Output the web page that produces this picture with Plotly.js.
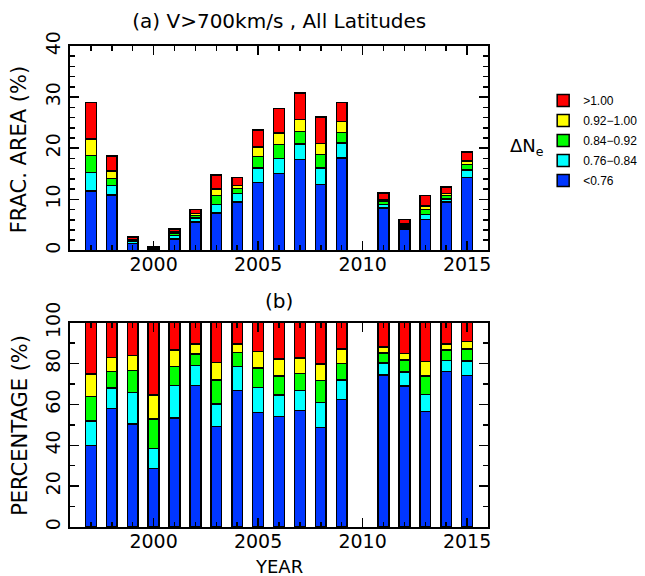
<!DOCTYPE html>
<html><head><meta charset="utf-8">
<script src="https://cdn.plot.ly/plotly-3.0.1.min.js"></script>
<style>body{margin:0;padding:0;background:#fff}</style>
</head><body>
<div id="chart" style="width:645px;height:576px"></div>
<script>
// Years with data (2010 missing)
const years = [1997,1998,1999,2000,2001,2002,2003,2004,2005,2006,2007,2008,2009,2011,2012,2013,2014,2015];

// Panel (a): fractional area (%) per ΔNe bin
const areaLt076   = [11.6,10.85,1.31,0.20,2.24,5.56,7.3,9.5,13.3,15.1,17.8,12.9,18.1,8.34,4.2,6.1,9.44,14.3];
const area076_084 = [3.6,1.85,0.40,0.07,0.66,0.80,1.7,1.68,2.8,2.9,3.0,3.2,2.9,0.64,0.42,0.89,0.67,1.39];
const area084_092 = [3.4,1.4,0.28,0.10,0.39,0.46,1.7,0.95,2.3,2.7,2.5,2.7,2.1,0.55,0.37,0.97,0.63,1.12];
const area092_100 = [3.2,1.4,0.19,0.08,0.34,0.38,1.3,0.60,1.8,2.3,2.3,2.1,2.1,0.34,0.19,0.78,0.38,0.69];
const areaGt100   = [7.1,3.0,0.42,0.25,0.56,0.84,2.8,1.5,3.4,4.8,5.25,5.2,3.7,1.33,0.92,2.05,1.28,1.8];

// Panel (b): percentage of each bin
const pctLt076   = [40,58,50.4,28.6,53.4,69.2,49.1,66.8,56.1,54,57.1,48.6,62.4,74.5,68.9,56.6,76.1,74.1];
const pct076_084 = [12,10,15.4,9.9,15.8,9.9,11,11.8,12.1,10.6,9.8,12.4,9.6,5.7,6.9,8.2,5.4,7.2];
const pct084_092 = [12,8,10.8,14.4,9.4,5.7,11.9,6.7,9.7,9.4,8.2,10.8,8,4.9,6,9,5.1,5.8];
const pct092_100 = [11,7,7.4,11.7,8.1,4.7,8.5,4.2,8,8.3,7.7,7.9,7.1,3,3.1,7.2,3.1,3.6];
const pctGt100   = [25,17,16,35.4,13.3,10.5,19.5,10.5,14.1,17.7,17.2,20.3,12.9,11.9,15.1,19,10.3,9.3];

const binLabels = ['<0.76','0.76\u22120.84','0.84\u22120.92','0.92\u22121.00','>1.00'];
const binColors = ['#0036ff','#00ffff','#00ff00','#ffff00','#ff0000'];

const areaSeries = [areaLt076, area076_084, area084_092, area092_100, areaGt100];
const pctSeries  = [pctLt076, pct076_084, pct084_092, pct092_100, pctGt100];

const traces = [];
areaSeries.forEach((s,i)=>traces.push({
  type:'bar', x:years, y:s, name:binLabels[i], xaxis:'x', yaxis:'y',
  width:0.52, marker:{color:binColors[i], line:{color:'#000', width:1.5}},
  legendgroup:'g'+i, legendrank:10-i, showlegend:true
}));
pctSeries.forEach((s,i)=>traces.push({
  type:'bar', x:years, y:s, name:binLabels[i], xaxis:'x2', yaxis:'y2',
  width:0.52, marker:{color:binColors[i], line:{color:'#000', width:1.5}},
  legendgroup:'g'+i, legendrank:10-i, showlegend:false
}));

const font = {family:'DejaVu Sans, sans-serif', color:'#000'};
const xax = {
  range:[1996,2016], tick0:2000, dtick:5, ticks:'inside', ticklen:9, tickwidth:1.5,
  tickcolor:'#000', showline:true, linecolor:'#000', linewidth:2, mirror:'allticks',
  showgrid:false, zeroline:false, tickfont:{...font, size:19}, ticklabelstandoff:-4,
  minor:{dtick:1, ticks:'inside', ticklen:5, tickwidth:1.5, tickcolor:'#000', showgrid:false}
};
const yax = {
  ticks:'inside', ticklen:9, tickwidth:1.5, tickcolor:'#000',
  showline:true, linecolor:'#000', linewidth:2, mirror:'allticks', showgrid:false, zeroline:false,
  tickangle:-90, tickfont:{...font, size:19}
};
const layout = {
  width:645, height:576, paper_bgcolor:'#fff', plot_bgcolor:'#fff',
  margin:{l:70, r:157, t:46, b:49, autoexpand:false},
  barmode:'stack', bargap:0,
  font:{...font, size:16},
  title:{text:'(a) V>700km/s , All Latitudes', x:0.433, xanchor:'center', y:0.963, yanchor:'middle', font:{...font, size:20}},
  xaxis:{...xax, anchor:'y'},
  xaxis2:{...xax, anchor:'y2'},
  yaxis:{...yax, domain:[0.575,1], range:[0,40], dtick:10,
    minor:{dtick:2, ticks:'inside', ticklen:5, tickwidth:1.5, tickcolor:'#000', showgrid:false}},
  yaxis2:{...yax, domain:[0,0.4247], range:[0,100], dtick:20,
    minor:{dtick:10, ticks:'inside', ticklen:5, tickwidth:1.5, tickcolor:'#000', showgrid:false}},
  legend:{x:1.132, xanchor:'left', y:0.917, yanchor:'top', traceorder:'grouped', tracegroupgap:1,
    font:{family:'Liberation Sans, Arial, sans-serif', color:'#000', size:12}, bgcolor:'rgba(0,0,0,0)', itemwidth:30},
  annotations:[
    {text:'FRAC. AREA (%)', xref:'paper', yref:'paper', x:-0.12, y:0.785, xanchor:'center', yanchor:'middle', textangle:-90, showarrow:false, font:{...font, size:21}},
    {text:'PERCENTAGE (%)', xref:'paper', yref:'paper', x:-0.12, y:0.212, xanchor:'center', yanchor:'middle', textangle:-90, showarrow:false, font:{...font, size:21}},
    {text:'YEAR', xref:'paper', yref:'paper', x:0.5, y:-0.082, xanchor:'center', yanchor:'middle', showarrow:false, font:{...font, size:18}},
    {text:'(b)', xref:'paper', yref:'paper', x:0.5, y:0.47, xanchor:'center', yanchor:'middle', showarrow:false, font:{...font, size:20}},
    {text:'\u0394N<sub>e</sub>', xref:'paper', yref:'paper', x:1.048, y:0.79, xanchor:'left', yanchor:'middle', showarrow:false, font:{...font, size:18}}
  ]
};
Plotly.newPlot('chart', traces, layout, {displayModeBar:false, staticPlot:true});
</script>
</body></html>
